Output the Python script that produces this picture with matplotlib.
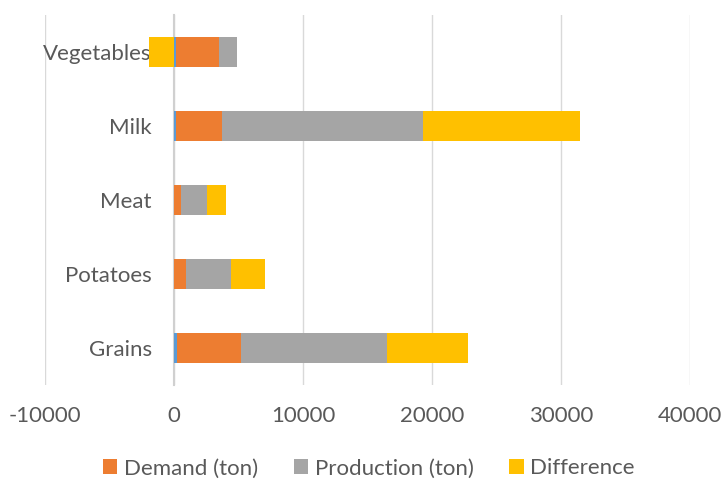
import matplotlib
matplotlib.use("Agg")
import matplotlib.pyplot as plt
import numpy as np

categories = ["Grains", "Potatoes", "Meat", "Milk", "Vegetables"]
base = [250, 0, 0, 150, 120]
demand = [4980, 900, 540, 3550, 3390]
production = [11290, 3540, 2020, 15580, 1340]
difference = [6300, 2580, 1470, 12190, -1940]
xticks = [-10000, 0, 10000, 20000, 30000, 40000]

plt.rcParams['font.family'] = ['Lato', 'DejaVu Sans']
txt = '#595959'

fig = plt.figure(figsize=(7.22, 4.79), dpi=100)
ax = fig.add_axes([45/722, 1-385/479, (690-45)/722, (385-15)/479])

y = np.arange(len(categories))
h = 0.4
base_a = np.array(base, float)
dem_a = np.array(demand, float)
prod_a = np.array(production, float)
diff_a = np.array(difference, float)

ax.barh(y, base_a, height=h, color='#5B9BD5', zorder=3)
left1 = base_a
ax.barh(y, dem_a, left=left1, height=h, color='#ED7D31', label='Demand (ton)', zorder=3)
left2 = left1 + dem_a
ax.barh(y, prod_a, left=left2, height=h, color='#A5A5A5', label='Production (ton)', zorder=3)
left3 = np.where(diff_a >= 0, left2 + prod_a, 0)
ax.barh(y, diff_a, left=left3, height=h, color='#FFC000', label='Difference', zorder=3)

ax.set_xlim(-10000, 40000)
ax.set_ylim(-0.5, len(categories) - 0.5)
ax.set_xticks(xticks)
ax.set_xticklabels([str(v) for v in xticks])
ax.set_yticks(y)
ax.set_yticklabels(categories)
ax.grid(axis='x', color='#D9D9D9', linewidth=1, zorder=0)
for s in ['top', 'right', 'bottom']:
    ax.spines[s].set_visible(False)
ax.spines['left'].set_position(('data', 0))
ax.spines['left'].set_color('#D0D0D0')
ax.spines['left'].set_linewidth(1.5)
ax.spines['left'].set_zorder(2)
ax.tick_params(axis='both', length=0, labelsize=16, colors=txt)
ax.tick_params(axis='x', pad=15)
ax.tick_params(axis='y', pad=16)

handles, labels = ax.get_legend_handles_labels()
fig.legend(handles, labels, loc='center', bbox_to_anchor=(0.511, 0.022), ncol=3,
           frameon=False, fontsize=16, labelcolor=txt, handlelength=0.65, handleheight=0.65,
           handletextpad=0.3, columnspacing=1.6)

fig.savefig('out.png', dpi=100)
